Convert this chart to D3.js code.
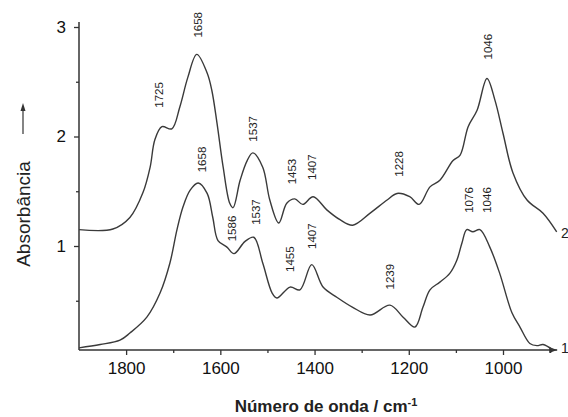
<!DOCTYPE html>
<html>
<head>
<meta charset="utf-8">
<script src="https://cdn.jsdelivr.net/npm/d3@7"></script>
<style>
  body { margin: 0; background: #fff; }
  svg { display: block; font-family: "Liberation Sans", Arial, sans-serif; }
</style>
</head>
<body>
<svg id="chart" width="568" height="417"></svg>
<script>
// spectrum 2 (upper), [wavenumber, absorbance]
const spectrum2 = [
    [1900, 1.15], [1828, 1.155], [1792, 1.26], [1764, 1.49], [1749, 1.72], [1739, 1.97],
    [1724, 2.09], [1703, 2.07], [1686, 2.27], [1669, 2.54], [1650, 2.75], [1628, 2.58],
    [1618, 2.42], [1607, 2.12], [1594, 1.72], [1580, 1.39], [1573, 1.35], [1558, 1.60],
    [1543, 1.78], [1531, 1.85], [1510, 1.72], [1495, 1.42], [1476, 1.21], [1459, 1.39],
    [1442, 1.43], [1425, 1.38], [1403, 1.45], [1374, 1.33], [1346, 1.24], [1319, 1.19],
    [1282, 1.30], [1246, 1.42], [1225, 1.48], [1198, 1.45], [1178, 1.38], [1155, 1.54],
    [1134, 1.60], [1106, 1.78], [1091, 1.83], [1074, 2.09], [1055, 2.24], [1034, 2.53],
    [1017, 2.33], [1000, 2.03], [979, 1.67], [949, 1.42], [915, 1.30], [886, 1.13]
];

// spectrum 1 (lower)
const spectrum1 = [
    [1900, 0.07], [1855, 0.10], [1813, 0.14], [1792, 0.205], [1756, 0.35], [1728, 0.57],
    [1707, 0.845], [1692, 1.15], [1679, 1.36], [1664, 1.51], [1647, 1.575], [1628, 1.48],
    [1616, 1.26], [1605, 1.05], [1586, 0.99], [1571, 0.93], [1548, 1.04], [1529, 1.08],
    [1510, 0.845], [1490, 0.57], [1480, 0.525], [1452, 0.625], [1431, 0.60], [1406, 0.83],
    [1382, 0.625], [1352, 0.53], [1319, 0.44], [1282, 0.37], [1240, 0.46], [1212, 0.35],
    [1187, 0.26], [1170, 0.44], [1155, 0.60], [1134, 0.67], [1113, 0.75], [1098, 0.87],
    [1087, 1.03], [1077, 1.15], [1064, 1.13], [1049, 1.15], [1028, 0.99], [1007, 0.75],
    [981, 0.39], [964, 0.26], [943, 0.11], [928, 0.09], [915, 0.10], [894, 0.05]
];

// peak annotations: text, wavenumber, absorbance at label centre
const peakLabels2 = [
    ['1658', 1648, 3.02], ['1725', 1730, 2.38], ['1537', 1530, 2.07], ['1453', 1447, 1.68],
    ['1407', 1405, 1.72], ['1228', 1221, 1.75], ['1046', 1032, 2.82]
];
const peakLabels1 = [
    ['1658', 1640, 1.79], ['1586', 1576, 1.16], ['1537', 1524, 1.31], ['1455', 1452, 0.88],
    ['1407', 1406, 1.09], ['1239', 1240, 0.72], ['1076', 1073, 1.42], ['1046', 1035, 1.42]
];

const majorXTicks = [1800, 1600, 1400, 1200, 1000];
const minorXTicks = [1700, 1500, 1300, 1100, 900];
const majorYTicks = [1, 2, 3];
const minorYTicks = [0.5, 1.5, 2.5];

const svg = d3.select('#chart');
const ink = '#333';

const x = d3.scaleLinear().domain([1900, 1000]).range([79, 503]);
const y = d3.scaleLinear().domain([0, 3]).range([355.5, 27]);
const xEnd = 885;
const yBottom = 0.05;

// axes
const xAxisG = svg.append('g').attr('transform', `translate(0,${y(yBottom)})`);
xAxisG.call(d3.axisBottom(x).tickValues(majorXTicks).tickSize(5).tickSizeOuter(0).tickFormat(d3.format('d')));
xAxisG.append('g').call(d3.axisBottom(x).tickValues(minorXTicks).tickSize(3).tickFormat(''));
xAxisG.selectAll('.domain').remove();
xAxisG.append('line')
    .attr('x1', x(1900)).attr('x2', x(xEnd))
    .attr('stroke', ink).attr('stroke-width', 1.5);
xAxisG.append('path')
    .attr('d', `M${x(xEnd)},0 l-8,-3 l0,6 Z`)
    .attr('fill', ink);

const yAxisG = svg.append('g').attr('transform', `translate(${x(1900)},0)`);
yAxisG.call(d3.axisLeft(y).tickValues(majorYTicks).tickSize(5).tickFormat(d3.format('d')));
yAxisG.append('g').call(d3.axisLeft(y).tickValues(minorYTicks).tickSize(3).tickFormat(''));
yAxisG.selectAll('.domain').remove();
yAxisG.append('line')
    .attr('y1', y(yBottom)).attr('y2', 22)
    .attr('stroke', ink).attr('stroke-width', 1.5);

svg.selectAll('.tick line').attr('stroke', ink).attr('stroke-width', 1.3);
xAxisG.selectAll('.tick text').attr('font-size', 17).attr('fill', '#111').attr('dy', '0.95em')
    .attr('font-family', '"Liberation Sans", Arial, sans-serif');
yAxisG.selectAll('.tick text').attr('font-size', 17).attr('fill', '#111').attr('dx', '-0.3em')
    .attr('font-family', '"Liberation Sans", Arial, sans-serif');

// spectra
const line = d3.line()
    .x(d => x(d[0]))
    .y(d => y(d[1]))
    .curve(d3.curveCatmullRom.alpha(0.5));

[spectrum2, spectrum1].forEach(s => {
    svg.append('path')
        .datum(s)
        .attr('d', line)
        .attr('fill', 'none')
        .attr('stroke', '#3a3a3a')
        .attr('stroke-width', 1.4);
});

// peak labels
function drawPeakLabels(labels) {
    svg.append('g').selectAll('text')
        .data(labels)
        .join('text')
        .attr('transform', d => `translate(${x(d[1])},${y(d[2])}) rotate(-90)`)
        .attr('text-anchor', 'middle')
        .attr('dy', '0.35em')
        .attr('font-size', 11.5)
        .attr('fill', '#222')
        .text(d => d[0]);
}
drawPeakLabels(peakLabels2);
drawPeakLabels(peakLabels1);

// curve numbers at the right edge
svg.append('text').attr('x', 561).attr('y', y(1.12)).attr('dy', '0.35em')
    .attr('font-size', 14).attr('fill', '#222').text('2');
svg.append('text').attr('x', 561).attr('y', y(0.07)).attr('dy', '0.35em')
    .attr('font-size', 14).attr('fill', '#222').text('1');

// axis titles
svg.append('text')
    .attr('transform', 'translate(30,214) rotate(-90)')
    .attr('text-anchor', 'middle')
    .attr('font-size', 19)
    .attr('fill', '#222')
    .text('Absorbância');
svg.append('line')
    .attr('x1', 23).attr('x2', 23).attr('y1', 134).attr('y2', 110)
    .attr('stroke', ink).attr('stroke-width', 1.2);
svg.append('path')
    .attr('d', 'M23,103 l-2.5,8 l5,0 Z')
    .attr('fill', ink);

const xt = svg.append('text')
    .attr('x', 326).attr('y', 412)
    .attr('text-anchor', 'middle')
    .attr('font-size', 17)
    .attr('font-weight', 'bold')
    .attr('fill', '#222');
xt.append('tspan').text('Número de onda / cm');
xt.append('tspan').attr('dy', -6).attr('font-size', 11).text('-1');
</script>
</body>
</html>
